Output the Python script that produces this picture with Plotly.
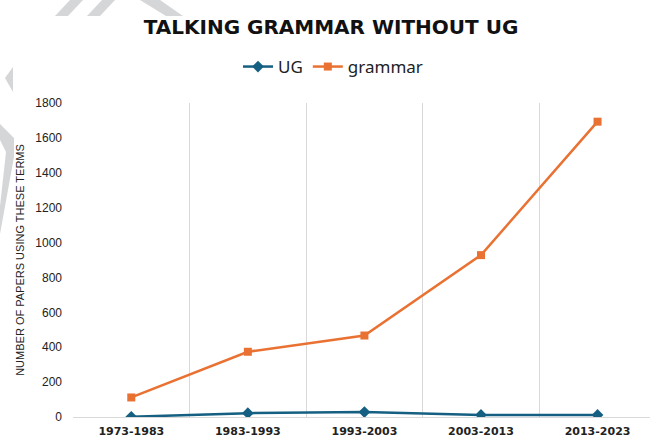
import plotly.graph_objects as go

categories = ["1973-1983", "1983-1993", "1993-2003", "2003-2013", "2013-2023"]
ug_values = [1, 22, 28, 12, 12]
grammar_values = [112, 374, 467, 928, 1693]
y_ticks = [0, 200, 400, 600, 800, 1000, 1200, 1400, 1600, 1800]

W, H = 650, 438
ML, MR, MT, MB = 73, 0, 103, 21
PW = W - ML - MR
PH = H - MT - MB


def px2paper(x, y):
    return (x - ML) / PW, (H - MB - y) / PH


def poly(points):
    pts = [px2paper(x, y) for x, y in points]
    d = "M" + " L".join(f"{a:.4f},{b:.4f}" for a, b in pts) + " Z"
    return dict(type="path", path=d, xref="paper", yref="paper",
                fillcolor="#d4d6d8", line=dict(width=0), layer="below")


fig = go.Figure()
fig.add_trace(go.Scatter(
    x=categories, y=ug_values, name="UG", mode="lines+markers",
    line=dict(color="#156082", width=2.5),
    marker=dict(symbol="diamond", size=9, color="#156082"),
))
fig.add_trace(go.Scatter(
    x=categories, y=grammar_values, name="grammar", mode="lines+markers",
    line=dict(color="#E97132", width=2.5),
    marker=dict(symbol="square", size=8, color="#E97132"),
))

shapes = [
    poly([(55, 16), (68, 16), (83, 0), (70, 0)]),
    poly([(87, 16), (100, 16), (115, 0), (102, 0)]),
    poly([(140, 0), (160, 0), (183, 16), (166, 16)]),
    poly([(5, 78), (13, 67), (13, 92)]),
    poly([(0, 124), (14, 138), (14, 157), (0, 234), (0, 206), (6, 152), (0, 140)]),
]

fig.update_layout(
    width=W, height=H,
    margin=dict(l=ML, r=MR, t=MT, b=MB, autoexpand=False),
    paper_bgcolor="white", plot_bgcolor="white",
    title=dict(text="<b>TALKING GRAMMAR WITHOUT UG</b>", x=331 / W, xanchor="center",
               y=1 - 27 / H, yanchor="middle", yref="container",
               font=dict(family="DejaVu Sans", size=20, color="#111111")),
    legend=dict(orientation="h", x=(333 - ML) / PW, xanchor="center",
                y=1 + (MT - 67) / PH, yanchor="middle",
                font=dict(family="Noto Sans", size=17, color="#222222"),
                itemwidth=30, tracegroupgap=0, bgcolor="rgba(0,0,0,0)"),
    showlegend=True,
    shapes=shapes,
    xaxis=dict(type="category", range=[-0.5, (W - ML) / (PW / 4.95) - 0.5],
               tickson="boundaries", showgrid=True, gridcolor="#d9d9d9", gridwidth=1,
               showline=True, linecolor="#d9d9d9", linewidth=1, ticks="",
               tickfont=dict(family="DejaVu Sans", size=11, color="#222222", weight="bold"),
               ticklabelstandoff=4, zeroline=False),
    yaxis=dict(range=[0, 1800], tickvals=y_ticks, showgrid=False, zeroline=False,
               showline=False, ticks="", ticklabelstandoff=10,
               tickfont=dict(family="Liberation Sans", size=12, color="#222222"),
               title=dict(text="NUMBER OF PAPERS USING THESE TERMS", standoff=8,
                          font=dict(family="Liberation Sans", size=11, color="#222222"))),
)

fig.write_html(
    "out.html",
    config={"displayModeBar": False},
    post_script="document.body.style.margin='0';document.body.style.overflow='hidden';",
)
